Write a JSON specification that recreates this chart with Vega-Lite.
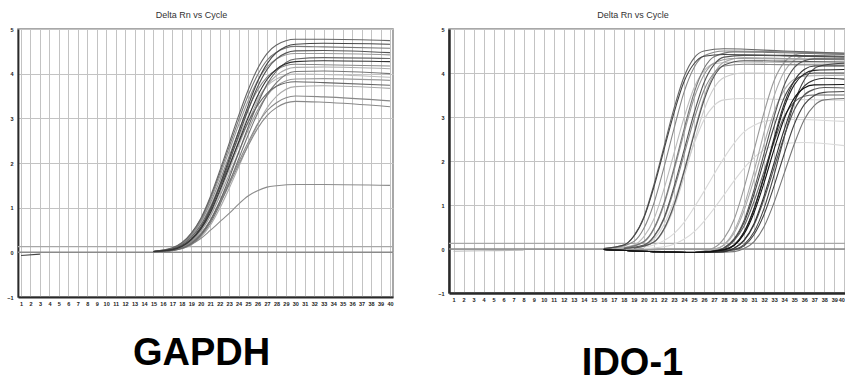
{
"$schema": "https://vega.github.io/schema/vega-lite/v6.json",
"background": "white",
"padding": {"left": 5, "top": 10, "right": 0, "bottom": 0},
"spacing": 41,
"resolve": {"scale": {"x": "independent", "y": "independent", "color": "independent"}},
"config": {
 "view": {"stroke": "#8c8c8c", "strokeWidth": 1.5},
 "axis": {"gridColor": "#c3c3c3", "gridWidth": 1, "ticks": false, "labelFont": "Liberation Sans", "labelFontSize": 5.5, "labelFontWeight": "bold", "labelColor": "#222", "domainColor": "#2a2a2a", "domainWidth": 1.8, "labelOverlap": false},
 "title": {"font": "Liberation Sans", "fontSize": 9, "fontWeight": "normal", "color": "#333", "offset": 7, "dx": -14}
},
"datasets": {
 "refs": [{"k": "zero", "v": 0}, {"k": "thr", "v": 0.13}],
 "g": [
{"s":"base","x":1,"y":-0.07},{"s":"base","x":3,"y":-0.04},
{"s":"k","x":15,"y":0.02},{"s":"k","x":17,"y":0.08},{"s":"k","x":19,"y":0.36},{"s":"k","x":20,"y":0.64},{"s":"k","x":21,"y":1.04},{"s":"k","x":22,"y":1.52},{"s":"k","x":23,"y":2.04},{"s":"k","x":24,"y":2.56},{"s":"k","x":25,"y":3.04},{"s":"k","x":26,"y":3.44},{"s":"k","x":27,"y":3.72},{"s":"k","x":28,"y":3.88},{"s":"k","x":30,"y":3.99},{"s":"k","x":33,"y":3.98},{"s":"k","x":40,"y":3.92},
{"s":"i","x":15,"y":0.02},{"s":"i","x":17,"y":0.06},{"s":"i","x":19,"y":0.27},{"s":"i","x":20,"y":0.50},{"s":"i","x":21,"y":0.85},{"s":"i","x":22,"y":1.33},{"s":"i","x":23,"y":1.85},{"s":"i","x":24,"y":2.39},{"s":"i","x":25,"y":2.91},{"s":"i","x":26,"y":3.39},{"s":"i","x":27,"y":3.74},{"s":"i","x":28,"y":3.96},{"s":"i","x":30,"y":4.14},{"s":"i","x":33,"y":4.15},{"s":"i","x":40,"y":4.11},
{"s":"n","x":15,"y":0.01},{"s":"n","x":17,"y":0.04},{"s":"n","x":19,"y":0.17},{"s":"n","x":20,"y":0.34},{"s":"n","x":21,"y":0.60},{"s":"n","x":22,"y":0.98},{"s":"n","x":23,"y":1.43},{"s":"n","x":24,"y":1.91},{"s":"n","x":25,"y":2.40},{"s":"n","x":26,"y":2.85},{"s":"n","x":27,"y":3.23},{"s":"n","x":28,"y":3.49},{"s":"n","x":30,"y":3.71},{"s":"n","x":33,"y":3.73},{"s":"n","x":40,"y":3.67},
{"s":"e","x":15,"y":0.02},{"s":"e","x":17,"y":0.09},{"s":"e","x":19,"y":0.40},{"s":"e","x":20,"y":0.71},{"s":"e","x":21,"y":1.16},{"s":"e","x":22,"y":1.69},{"s":"e","x":23,"y":2.27},{"s":"e","x":24,"y":2.85},{"s":"e","x":25,"y":3.39},{"s":"e","x":26,"y":3.84},{"s":"e","x":27,"y":4.15},{"s":"e","x":28,"y":4.33},{"s":"e","x":30,"y":4.45},{"s":"e","x":33,"y":4.45},{"s":"e","x":40,"y":4.42},
{"s":"l","x":15,"y":0.02},{"s":"l","x":17,"y":0.05},{"s":"l","x":19,"y":0.25},{"s":"l","x":20,"y":0.47},{"s":"l","x":21,"y":0.80},{"s":"l","x":22,"y":1.25},{"s":"l","x":23,"y":1.74},{"s":"l","x":24,"y":2.24},{"s":"l","x":25,"y":2.73},{"s":"l","x":26,"y":3.18},{"s":"l","x":27,"y":3.51},{"s":"l","x":28,"y":3.72},{"s":"l","x":30,"y":3.88},{"s":"l","x":33,"y":3.89},{"s":"l","x":40,"y":3.85},
{"s":"q","x":15,"y":0.01},{"s":"q","x":17,"y":0.05},{"s":"q","x":19,"y":0.18},{"s":"q","x":20,"y":0.31},{"s":"q","x":21,"y":0.49},{"s":"q","x":22,"y":0.68},{"s":"q","x":23,"y":0.87},{"s":"q","x":24,"y":1.08},{"s":"q","x":25,"y":1.26},{"s":"q","x":26,"y":1.38},{"s":"q","x":27,"y":1.46},{"s":"q","x":28,"y":1.49},{"s":"q","x":30,"y":1.52},{"s":"q","x":33,"y":1.52},{"s":"q","x":40,"y":1.50},
{"s":"h","x":15,"y":0.02},{"s":"h","x":17,"y":0.08},{"s":"h","x":19,"y":0.38},{"s":"h","x":20,"y":0.68},{"s":"h","x":21,"y":1.10},{"s":"h","x":22,"y":1.60},{"s":"h","x":23,"y":2.15},{"s":"h","x":24,"y":2.70},{"s":"h","x":25,"y":3.21},{"s":"h","x":26,"y":3.63},{"s":"h","x":27,"y":3.92},{"s":"h","x":28,"y":4.09},{"s":"h","x":30,"y":4.21},{"s":"h","x":33,"y":4.20},{"s":"h","x":40,"y":4.17},
{"s":"o","x":15,"y":0.01},{"s":"o","x":17,"y":0.05},{"s":"o","x":19,"y":0.23},{"s":"o","x":20,"y":0.42},{"s":"o","x":21,"y":0.72},{"s":"o","x":22,"y":1.13},{"s":"o","x":23,"y":1.57},{"s":"o","x":24,"y":2.02},{"s":"o","x":25,"y":2.46},{"s":"o","x":26,"y":2.87},{"s":"o","x":27,"y":3.17},{"s":"o","x":28,"y":3.35},{"s":"o","x":30,"y":3.50},{"s":"o","x":33,"y":3.48},{"s":"o","x":40,"y":3.39},
{"s":"p","x":15,"y":0.01},{"s":"p","x":17,"y":0.05},{"s":"p","x":19,"y":0.22},{"s":"p","x":20,"y":0.41},{"s":"p","x":21,"y":0.70},{"s":"p","x":22,"y":1.09},{"s":"p","x":23,"y":1.51},{"s":"p","x":24,"y":1.96},{"s":"p","x":25,"y":2.38},{"s":"p","x":26,"y":2.77},{"s":"p","x":27,"y":3.06},{"s":"p","x":28,"y":3.24},{"s":"p","x":30,"y":3.38},{"s":"p","x":33,"y":3.36},{"s":"p","x":40,"y":3.26},
{"s":"c","x":15,"y":0.02},{"s":"c","x":17,"y":0.09},{"s":"c","x":19,"y":0.42},{"s":"c","x":20,"y":0.74},{"s":"c","x":21,"y":1.20},{"s":"c","x":22,"y":1.76},{"s":"c","x":23,"y":2.36},{"s":"c","x":24,"y":2.96},{"s":"c","x":25,"y":3.51},{"s":"c","x":26,"y":3.97},{"s":"c","x":27,"y":4.30},{"s":"c","x":28,"y":4.48},{"s":"c","x":30,"y":4.61},{"s":"c","x":33,"y":4.60},{"s":"c","x":40,"y":4.57},
{"s":"j","x":15,"y":0.01},{"s":"j","x":17,"y":0.04},{"s":"j","x":19,"y":0.18},{"s":"j","x":20,"y":0.37},{"s":"j","x":21,"y":0.65},{"s":"j","x":22,"y":1.06},{"s":"j","x":23,"y":1.55},{"s":"j","x":24,"y":2.09},{"s":"j","x":25,"y":2.62},{"s":"j","x":26,"y":3.11},{"s":"j","x":27,"y":3.52},{"s":"j","x":28,"y":3.80},{"s":"j","x":30,"y":4.05},{"s":"j","x":33,"y":4.06},{"s":"j","x":40,"y":4.00},
{"s":"a","x":15,"y":0.02},{"s":"a","x":17,"y":0.10},{"s":"a","x":19,"y":0.43},{"s":"a","x":20,"y":0.76},{"s":"a","x":21,"y":1.24},{"s":"a","x":22,"y":1.82},{"s":"a","x":23,"y":2.44},{"s":"a","x":24,"y":3.06},{"s":"a","x":25,"y":3.63},{"s":"a","x":26,"y":4.11},{"s":"a","x":27,"y":4.45},{"s":"a","x":28,"y":4.64},{"s":"a","x":30,"y":4.77},{"s":"a","x":33,"y":4.77},{"s":"a","x":40,"y":4.74},
{"s":"f","x":15,"y":0.01},{"s":"f","x":17,"y":0.04},{"s":"f","x":19,"y":0.20},{"s":"f","x":20,"y":0.39},{"s":"f","x":21,"y":0.70},{"s":"f","x":22,"y":1.14},{"s":"f","x":23,"y":1.66},{"s":"f","x":24,"y":2.23},{"s":"f","x":25,"y":2.80},{"s":"f","x":26,"y":3.32},{"s":"f","x":27,"y":3.76},{"s":"f","x":28,"y":4.06},{"s":"f","x":30,"y":4.33},{"s":"f","x":33,"y":4.36},{"s":"f","x":40,"y":4.34},
{"s":"m","x":15,"y":0.02},{"s":"m","x":17,"y":0.08},{"s":"m","x":19,"y":0.34},{"s":"m","x":20,"y":0.61},{"s":"m","x":21,"y":1.00},{"s":"m","x":22,"y":1.46},{"s":"m","x":23,"y":1.95},{"s":"m","x":24,"y":2.45},{"s":"m","x":25,"y":2.91},{"s":"m","x":26,"y":3.29},{"s":"m","x":27,"y":3.56},{"s":"m","x":28,"y":3.72},{"s":"m","x":30,"y":3.82},{"s":"m","x":33,"y":3.80},{"s":"m","x":40,"y":3.74},
{"s":"d","x":15,"y":0.02},{"s":"d","x":17,"y":0.06},{"s":"d","x":19,"y":0.30},{"s":"d","x":20,"y":0.54},{"s":"d","x":21,"y":0.93},{"s":"d","x":22,"y":1.45},{"s":"d","x":23,"y":2.02},{"s":"d","x":24,"y":2.61},{"s":"d","x":25,"y":3.18},{"s":"d","x":26,"y":3.70},{"s":"d","x":27,"y":4.09},{"s":"d","x":28,"y":4.33},{"s":"d","x":30,"y":4.51},{"s":"d","x":33,"y":4.52},{"s":"d","x":40,"y":4.47},
{"s":"b","x":15,"y":0.02},{"s":"b","x":17,"y":0.07},{"s":"b","x":19,"y":0.30},{"s":"b","x":20,"y":0.56},{"s":"b","x":21,"y":0.96},{"s":"b","x":22,"y":1.50},{"s":"b","x":23,"y":2.09},{"s":"b","x":24,"y":2.70},{"s":"b","x":25,"y":3.28},{"s":"b","x":26,"y":3.82},{"s":"b","x":27,"y":4.22},{"s":"b","x":28,"y":4.47},{"s":"b","x":30,"y":4.66},{"s":"b","x":33,"y":4.68},{"s":"b","x":40,"y":4.66},
{"s":"g","x":15,"y":0.02},{"s":"g","x":17,"y":0.06},{"s":"g","x":19,"y":0.28},{"s":"g","x":20,"y":0.52},{"s":"g","x":21,"y":0.88},{"s":"g","x":22,"y":1.38},{"s":"g","x":23,"y":1.91},{"s":"g","x":24,"y":2.47},{"s":"g","x":25,"y":3.01},{"s":"g","x":26,"y":3.50},{"s":"g","x":27,"y":3.87},{"s":"g","x":28,"y":4.10},{"s":"g","x":30,"y":4.27},{"s":"g","x":33,"y":4.29},{"s":"g","x":40,"y":4.27}
 ],
 "i": [
{"s":"base","x":1,"y":-0.05},{"s":"base","x":4,"y":-0.04},{"s":"base","x":8,"y":-0.03},
{"s":"l4","x":20,"y":0.01},{"s":"l4","x":22,"y":0.05},{"s":"l4","x":23,"y":0.11},{"s":"l4","x":24,"y":0.22},{"s":"l4","x":25,"y":0.39},{"s":"l4","x":26,"y":0.63},{"s":"l4","x":27,"y":0.92},{"s":"l4","x":28,"y":1.23},{"s":"l4","x":29,"y":1.55},{"s":"l4","x":30,"y":1.84},{"s":"l4","x":31,"y":2.08},{"s":"l4","x":32,"y":2.25},{"s":"l4","x":33,"y":2.35},{"s":"l4","x":34,"y":2.40},{"s":"l4","x":36,"y":2.42},{"s":"l4","x":40,"y":2.35},
{"s":"l3","x":19,"y":0.02},{"s":"l3","x":21,"y":0.09},{"s":"l3","x":22,"y":0.19},{"s":"l3","x":23,"y":0.35},{"s":"l3","x":24,"y":0.60},{"s":"l3","x":25,"y":0.94},{"s":"l3","x":26,"y":1.31},{"s":"l3","x":27,"y":1.70},{"s":"l3","x":28,"y":2.07},{"s":"l3","x":29,"y":2.40},{"s":"l3","x":30,"y":2.66},{"s":"l3","x":31,"y":2.81},{"s":"l3","x":32,"y":2.90},{"s":"l3","x":34,"y":2.95},{"s":"l3","x":40,"y":2.90},
{"s":"l2","x":18,"y":0.01},{"s":"l2","x":20,"y":0.07},{"s":"l2","x":21,"y":0.22},{"s":"l2","x":22,"y":0.55},{"s":"l2","x":23,"y":1.09},{"s":"l2","x":24,"y":1.74},{"s":"l2","x":25,"y":2.39},{"s":"l2","x":26,"y":2.94},{"s":"l2","x":27,"y":3.26},{"s":"l2","x":28,"y":3.39},{"s":"l2","x":30,"y":3.42},{"s":"l2","x":34,"y":3.40},{"s":"l2","x":40,"y":3.38},
{"s":"l1","x":19,"y":0.02},{"s":"l1","x":21,"y":0.15},{"s":"l1","x":22,"y":0.42},{"s":"l1","x":23,"y":0.93},{"s":"l1","x":24,"y":1.64},{"s":"l1","x":25,"y":2.43},{"s":"l1","x":26,"y":3.16},{"s":"l1","x":27,"y":3.66},{"s":"l1","x":28,"y":3.90},{"s":"l1","x":30,"y":4.00},{"s":"l1","x":34,"y":3.99},{"s":"l1","x":40,"y":3.98},
{"s":"e10","x":17,"y":0.01},{"s":"e10","x":19,"y":0.09},{"s":"e10","x":20,"y":0.28},{"s":"e10","x":21,"y":0.68},{"s":"e10","x":22,"y":1.36},{"s":"e10","x":23,"y":2.17},{"s":"e10","x":24,"y":2.98},{"s":"e10","x":25,"y":3.66},{"s":"e10","x":26,"y":4.05},{"s":"e10","x":27,"y":4.21},{"s":"e10","x":29,"y":4.25},{"s":"e10","x":34,"y":4.24},{"s":"e10","x":40,"y":4.22},
{"s":"e9","x":19,"y":0.02},{"s":"e9","x":21,"y":0.16},{"s":"e9","x":22,"y":0.46},{"s":"e9","x":23,"y":1.01},{"s":"e9","x":24,"y":1.78},{"s":"e9","x":25,"y":2.64},{"s":"e9","x":26,"y":3.44},{"s":"e9","x":27,"y":3.98},{"s":"e9","x":28,"y":4.25},{"s":"e9","x":30,"y":4.35},{"s":"e9","x":34,"y":4.33},{"s":"e9","x":40,"y":4.30},
{"s":"t2","x":16,"y":-0.01},{"s":"t2","x":21,"y":-0.05},{"s":"t2","x":25,"y":-0.07},{"s":"t2","x":27,"y":-0.01},{"s":"t2","x":28,"y":0.10},{"s":"t2","x":29,"y":0.41},{"s":"t2","x":30,"y":0.98},{"s":"t2","x":31,"y":1.77},{"s":"t2","x":32,"y":2.66},{"s":"t2","x":33,"y":3.48},{"s":"t2","x":34,"y":4.03},{"s":"t2","x":35,"y":4.29},{"s":"t2","x":36,"y":4.38},{"s":"t2","x":40,"y":4.42},
{"s":"t13","x":16,"y":-0.01},{"s":"t13","x":21,"y":-0.05},{"s":"t13","x":25,"y":-0.07},{"s":"t13","x":27,"y":-0.01},{"s":"t13","x":28,"y":0.09},{"s":"t13","x":29,"y":0.36},{"s":"t13","x":30,"y":0.88},{"s":"t13","x":31,"y":1.59},{"s":"t13","x":32,"y":2.39},{"s":"t13","x":33,"y":3.12},{"s":"t13","x":34,"y":3.61},{"s":"t13","x":35,"y":3.86},{"s":"t13","x":36,"y":3.93},{"s":"t13","x":40,"y":3.95},
{"s":"e6","x":18,"y":0.02},{"s":"e6","x":20,"y":0.16},{"s":"e6","x":21,"y":0.45},{"s":"e6","x":22,"y":1.00},{"s":"e6","x":23,"y":1.78},{"s":"e6","x":24,"y":2.63},{"s":"e6","x":25,"y":3.42},{"s":"e6","x":26,"y":3.96},{"s":"e6","x":27,"y":4.23},{"s":"e6","x":29,"y":4.33},{"s":"e6","x":34,"y":4.32},{"s":"e6","x":40,"y":4.30},
{"s":"t1","x":16,"y":-0.01},{"s":"t1","x":21,"y":-0.05},{"s":"t1","x":25,"y":-0.07},{"s":"t1","x":27,"y":0.03},{"s":"t1","x":28,"y":0.24},{"s":"t1","x":29,"y":0.67},{"s":"t1","x":30,"y":1.39},{"s":"t1","x":31,"y":2.25},{"s":"t1","x":32,"y":3.11},{"s":"t1","x":33,"y":3.83},{"s":"t1","x":34,"y":4.24},{"s":"t1","x":35,"y":4.41},{"s":"t1","x":36,"y":4.45},{"s":"t1","x":40,"y":4.45},
{"s":"e2","x":17,"y":0.02},{"s":"e2","x":19,"y":0.17},{"s":"e2","x":20,"y":0.47},{"s":"e2","x":21,"y":1.04},{"s":"e2","x":22,"y":1.85},{"s":"e2","x":23,"y":2.73},{"s":"e2","x":24,"y":3.56},{"s":"e2","x":25,"y":4.12},{"s":"e2","x":26,"y":4.39},{"s":"e2","x":28,"y":4.50},{"s":"e2","x":34,"y":4.48},{"s":"e2","x":40,"y":4.45},
{"s":"e8","x":18,"y":0.01},{"s":"e8","x":20,"y":0.08},{"s":"e8","x":21,"y":0.27},{"s":"e8","x":22,"y":0.67},{"s":"e8","x":23,"y":1.34},{"s":"e8","x":24,"y":2.14},{"s":"e8","x":25,"y":2.94},{"s":"e8","x":26,"y":3.61},{"s":"e8","x":27,"y":4.00},{"s":"e8","x":28,"y":4.16},{"s":"e8","x":30,"y":4.20},{"s":"e8","x":34,"y":4.19},{"s":"e8","x":40,"y":4.18},
{"s":"e4","x":18,"y":0.02},{"s":"e4","x":20,"y":0.17},{"s":"e4","x":21,"y":0.47},{"s":"e4","x":22,"y":1.04},{"s":"e4","x":23,"y":1.84},{"s":"e4","x":24,"y":2.72},{"s":"e4","x":25,"y":3.54},{"s":"e4","x":26,"y":4.10},{"s":"e4","x":27,"y":4.37},{"s":"e4","x":29,"y":4.48},{"s":"e4","x":34,"y":4.46},{"s":"e4","x":40,"y":4.42},
{"s":"t12","x":16,"y":-0.01},{"s":"t12","x":21,"y":-0.06},{"s":"t12","x":26,"y":-0.08},{"s":"t12","x":29,"y":-0.06},{"s":"t12","x":30,"y":0.01},{"s":"t12","x":31,"y":0.17},{"s":"t12","x":32,"y":0.51},{"s":"t12","x":33,"y":1.06},{"s":"t12","x":34,"y":1.72},{"s":"t12","x":35,"y":2.38},{"s":"t12","x":36,"y":2.94},{"s":"t12","x":37,"y":3.26},{"s":"t12","x":38,"y":3.39},{"s":"t12","x":40,"y":3.42},
{"s":"e1","x":16,"y":0.01},{"s":"e1","x":18,"y":0.09},{"s":"e1","x":19,"y":0.30},{"s":"e1","x":20,"y":0.73},{"s":"e1","x":21,"y":1.46},{"s":"e1","x":22,"y":2.32},{"s":"e1","x":23,"y":3.19},{"s":"e1","x":24,"y":3.91},{"s":"e1","x":25,"y":4.34},{"s":"e1","x":26,"y":4.50},{"s":"e1","x":28,"y":4.55},{"s":"e1","x":34,"y":4.50},{"s":"e1","x":40,"y":4.45},
{"s":"t11","x":16,"y":-0.01},{"s":"t11","x":21,"y":-0.06},{"s":"t11","x":25,"y":-0.08},{"s":"t11","x":28,"y":0.01},{"s":"t11","x":29,"y":0.19},{"s":"t11","x":30,"y":0.52},{"s":"t11","x":31,"y":1.09},{"s":"t11","x":32,"y":1.77},{"s":"t11","x":33,"y":2.44},{"s":"t11","x":34,"y":3.01},{"s":"t11","x":35,"y":3.34},{"s":"t11","x":36,"y":3.47},{"s":"t11","x":37,"y":3.50},{"s":"t11","x":40,"y":3.50},
{"s":"e5","x":18,"y":0.01},{"s":"e5","x":20,"y":0.09},{"s":"e5","x":21,"y":0.29},{"s":"e5","x":22,"y":0.70},{"s":"e5","x":23,"y":1.41},{"s":"e5","x":24,"y":2.24},{"s":"e5","x":25,"y":3.08},{"s":"e5","x":26,"y":3.78},{"s":"e5","x":27,"y":4.19},{"s":"e5","x":28,"y":4.36},{"s":"e5","x":30,"y":4.40},{"s":"e5","x":34,"y":4.39},{"s":"e5","x":40,"y":4.36},
{"s":"e7","x":19,"y":0.02},{"s":"e7","x":21,"y":0.16},{"s":"e7","x":22,"y":0.45},{"s":"e7","x":23,"y":0.99},{"s":"e7","x":24,"y":1.75},{"s":"e7","x":25,"y":2.60},{"s":"e7","x":26,"y":3.38},{"s":"e7","x":27,"y":3.92},{"s":"e7","x":28,"y":4.18},{"s":"e7","x":30,"y":4.28},{"s":"e7","x":34,"y":4.27},{"s":"e7","x":40,"y":4.25},
{"s":"t3","x":16,"y":-0.01},{"s":"t3","x":21,"y":-0.06},{"s":"t3","x":25,"y":-0.08},{"s":"t3","x":27,"y":-0.06},{"s":"t3","x":28,"y":0.03},{"s":"t3","x":29,"y":0.23},{"s":"t3","x":30,"y":0.65},{"s":"t3","x":31,"y":1.35},{"s":"t3","x":32,"y":2.18},{"s":"t3","x":33,"y":3.01},{"s":"t3","x":34,"y":3.72},{"s":"t3","x":35,"y":4.12},{"s":"t3","x":36,"y":4.28},{"s":"t3","x":37,"y":4.32},{"s":"t3","x":40,"y":4.32},
{"s":"t9","x":16,"y":-0.01},{"s":"t9","x":21,"y":-0.06},{"s":"t9","x":25,"y":-0.08},{"s":"t9","x":28,"y":-0.06},{"s":"t9","x":29,"y":0.01},{"s":"t9","x":30,"y":0.19},{"s":"t9","x":31,"y":0.55},{"s":"t9","x":32,"y":1.14},{"s":"t9","x":33,"y":1.85},{"s":"t9","x":34,"y":2.56},{"s":"t9","x":35,"y":3.16},{"s":"t9","x":36,"y":3.50},{"s":"t9","x":37,"y":3.63},{"s":"t9","x":38,"y":3.67},{"s":"t9","x":40,"y":3.66},
{"s":"e3","x":16,"y":0.01},{"s":"e3","x":18,"y":0.09},{"s":"e3","x":19,"y":0.29},{"s":"e3","x":20,"y":0.71},{"s":"e3","x":21,"y":1.41},{"s":"e3","x":22,"y":2.25},{"s":"e3","x":23,"y":3.09},{"s":"e3","x":24,"y":3.80},{"s":"e3","x":25,"y":4.21},{"s":"e3","x":26,"y":4.38},{"s":"e3","x":28,"y":4.42},{"s":"e3","x":34,"y":4.40},{"s":"e3","x":40,"y":4.38},
{"s":"t6","x":16,"y":-0.01},{"s":"t6","x":21,"y":-0.06},{"s":"t6","x":25,"y":-0.08},{"s":"t6","x":27,"y":-0.06},{"s":"t6","x":28,"y":0.02},{"s":"t6","x":29,"y":0.21},{"s":"t6","x":30,"y":0.60},{"s":"t6","x":31,"y":1.25},{"s":"t6","x":32,"y":2.02},{"s":"t6","x":33,"y":2.79},{"s":"t6","x":34,"y":3.44},{"s":"t6","x":35,"y":3.81},{"s":"t6","x":36,"y":3.96},{"s":"t6","x":37,"y":4.00},{"s":"t6","x":40,"y":4.00},
{"s":"t10","x":16,"y":-0.01},{"s":"t10","x":21,"y":-0.06},{"s":"t10","x":25,"y":-0.08},{"s":"t10","x":29,"y":-0.02},{"s":"t10","x":30,"y":0.07},{"s":"t10","x":31,"y":0.33},{"s":"t10","x":32,"y":0.79},{"s":"t10","x":33,"y":1.44},{"s":"t10","x":34,"y":2.16},{"s":"t10","x":35,"y":2.83},{"s":"t10","x":36,"y":3.28},{"s":"t10","x":37,"y":3.49},{"s":"t10","x":38,"y":3.56},{"s":"t10","x":40,"y":3.58},
{"s":"t14","x":16,"y":-0.01},{"s":"t14","x":21,"y":-0.06},{"s":"t14","x":25,"y":-0.08},{"s":"t14","x":29,"y":-0.01},{"s":"t14","x":30,"y":0.10},{"s":"t14","x":31,"y":0.39},{"s":"t14","x":32,"y":0.93},{"s":"t14","x":33,"y":1.69},{"s":"t14","x":34,"y":2.54},{"s":"t14","x":35,"y":3.32},{"s":"t14","x":36,"y":3.84},{"s":"t14","x":37,"y":4.10},{"s":"t14","x":38,"y":4.18},{"s":"t14","x":40,"y":4.22},
{"s":"t7","x":16,"y":-0.01},{"s":"t7","x":21,"y":-0.06},{"s":"t7","x":25,"y":-0.08},{"s":"t7","x":28,"y":-0.06},{"s":"t7","x":29,"y":0.02},{"s":"t7","x":30,"y":0.20},{"s":"t7","x":31,"y":0.58},{"s":"t7","x":32,"y":1.21},{"s":"t7","x":33,"y":1.96},{"s":"t7","x":34,"y":2.71},{"s":"t7","x":35,"y":3.34},{"s":"t7","x":36,"y":3.70},{"s":"t7","x":37,"y":3.84},{"s":"t7","x":38,"y":3.88},{"s":"t7","x":40,"y":3.86},
{"s":"t4","x":16,"y":-0.01},{"s":"t4","x":21,"y":-0.06},{"s":"t4","x":25,"y":-0.08},{"s":"t4","x":28,"y":-0.01},{"s":"t4","x":29,"y":0.09},{"s":"t4","x":30,"y":0.39},{"s":"t4","x":31,"y":0.93},{"s":"t4","x":32,"y":1.68},{"s":"t4","x":33,"y":2.53},{"s":"t4","x":34,"y":3.30},{"s":"t4","x":35,"y":3.82},{"s":"t4","x":36,"y":4.08},{"s":"t4","x":37,"y":4.16},{"s":"t4","x":40,"y":4.16},
{"s":"t5","x":16,"y":-0.01},{"s":"t5","x":21,"y":-0.06},{"s":"t5","x":25,"y":-0.08},{"s":"t5","x":28,"y":-0.01},{"s":"t5","x":29,"y":0.09},{"s":"t5","x":30,"y":0.38},{"s":"t5","x":31,"y":0.91},{"s":"t5","x":32,"y":1.64},{"s":"t5","x":33,"y":2.47},{"s":"t5","x":34,"y":3.22},{"s":"t5","x":35,"y":3.73},{"s":"t5","x":36,"y":3.98},{"s":"t5","x":37,"y":4.06},{"s":"t5","x":40,"y":4.08},
{"s":"t8","x":16,"y":-0.01},{"s":"t8","x":21,"y":-0.06},{"s":"t8","x":25,"y":-0.08},{"s":"t8","x":28,"y":-0.02},{"s":"t8","x":29,"y":0.08},{"s":"t8","x":30,"y":0.34},{"s":"t8","x":31,"y":0.83},{"s":"t8","x":32,"y":1.51},{"s":"t8","x":33,"y":2.27},{"s":"t8","x":34,"y":2.96},{"s":"t8","x":35,"y":3.43},{"s":"t8","x":36,"y":3.66},{"s":"t8","x":37,"y":3.73},{"s":"t8","x":40,"y":3.74}
 ]
},
"hconcat": [
 {
  "width": 375, "height": 268,
  "title": {"text": "Delta Rn vs Cycle"},
  "layer": [
   {"data": {"name": "refs"}, "transform": [{"filter": "datum.k == 'thr'"}],
    "mark": {"type": "rule", "color": "#a8a8a8", "strokeWidth": 1.2},
    "encoding": {"y": {"field": "v", "type": "quantitative", "scale": {"domain": [-1, 5], "nice": false}}}},
   {"data": {"name": "refs"}, "transform": [{"filter": "datum.k == 'zero'"}],
    "mark": {"type": "rule", "color": "#8a8a8a", "strokeWidth": 1.5},
    "encoding": {"y": {"field": "v", "type": "quantitative"}}},
   {"data": {"name": "g"},
    "mark": {"type": "line", "interpolate": "monotone", "strokeWidth": 1.1},
    "encoding": {
     "x": {"field": "x", "type": "quantitative", "scale": {"domain": [0.68, 40.32], "nice": false, "zero": false},
           "axis": {"values": [1,2,3,4,5,6,7,8,9,10,11,12,13,14,15,16,17,18,19,20,21,22,23,24,25,26,27,28,29,30,31,32,33,34,35,36,37,38,39,40], "labelPadding": 4, "title": "GAPDH", "titleFont": "Liberation Sans", "titleFontSize": 38, "titleFontWeight": "bold", "titleColor": "#000", "titlePadding": 28, "titleX": 183}},
     "y": {"field": "y", "type": "quantitative", "axis": {"values": [-1,0,1,2,3,4,5], "labelPadding": 5, "title": null}},
     "color": {"field": "s", "type": "nominal", "legend": null,
       "scale": {"domain": ["base","a","b","c","d","e","f","g","h","i","j","k","l","m","n","o","p","q"],
                 "range": ["#444444","#666666","#444444","#777777","#555555","#999999","#666666","#333333","#888888","#aaaaaa","#777777","#bbbbbb","#999999","#666666","#aaaaaa","#888888","#888888","#8c8c8c"]}}
    }}
  ]
 },
 {
  "width": 396, "height": 264,
  "title": {"text": "Delta Rn vs Cycle"},
  "layer": [
   {"data": {"name": "refs"}, "transform": [{"filter": "datum.k == 'thr'"}],
    "mark": {"type": "rule", "color": "#a8a8a8", "strokeWidth": 1.2},
    "encoding": {"y": {"field": "v", "type": "quantitative", "scale": {"domain": [-1, 5], "nice": false}}}},
   {"data": {"name": "refs"}, "transform": [{"filter": "datum.k == 'zero'"}],
    "mark": {"type": "rule", "color": "#8a8a8a", "strokeWidth": 1.5},
    "encoding": {"y": {"field": "v", "type": "quantitative"}}},
   {"data": {"name": "i"},
    "mark": {"type": "line", "interpolate": "monotone", "strokeWidth": 1.1},
    "encoding": {
     "x": {"field": "x", "type": "quantitative", "scale": {"domain": [0.55, 40.07], "nice": false, "zero": false},
           "axis": {"values": [1,2,3,4,5,6,7,8,9,10,11,12,13,14,15,16,17,18,19,20,21,22,23,24,25,26,27,28,29,30,31,32,33,34,35,36,37,38,39,40], "labelPadding": 4, "domainWidth": 2.5, "title": "IDO-1", "titleFont": "Liberation Sans", "titleFontSize": 38, "titleFontWeight": "bold", "titleColor": "#000", "titlePadding": 42, "titleX": 183}},
     "y": {"field": "y", "type": "quantitative", "axis": {"values": [-1,0,1,2,3,4,5], "labelPadding": 5, "domainWidth": 2.5, "title": null}},
     "color": {"field": "s", "type": "nominal", "legend": null,
       "scale": {"domain": ["base","l1","l2","l3","l4","e1","e2","e3","e4","e5","e6","e7","e8","e9","e10","t1","t2","t3","t4","t5","t6","t7","t8","t9","t10","t11","t12","t13","t14"],
                 "range": ["#bbbbbb","#cccccc","#d4d4d4","#dadada","#dadada","#666666","#888888","#444444","#777777","#555555","#999999","#555555","#888888","#aaaaaa","#bbbbbb","#999999","#aaaaaa","#555555","#333333","#222222","#444444","#333333","#111111","#555555","#444444","#666666","#777777","#aaaaaa","#444444"]}}
    }}
  ]
 }
]
}
